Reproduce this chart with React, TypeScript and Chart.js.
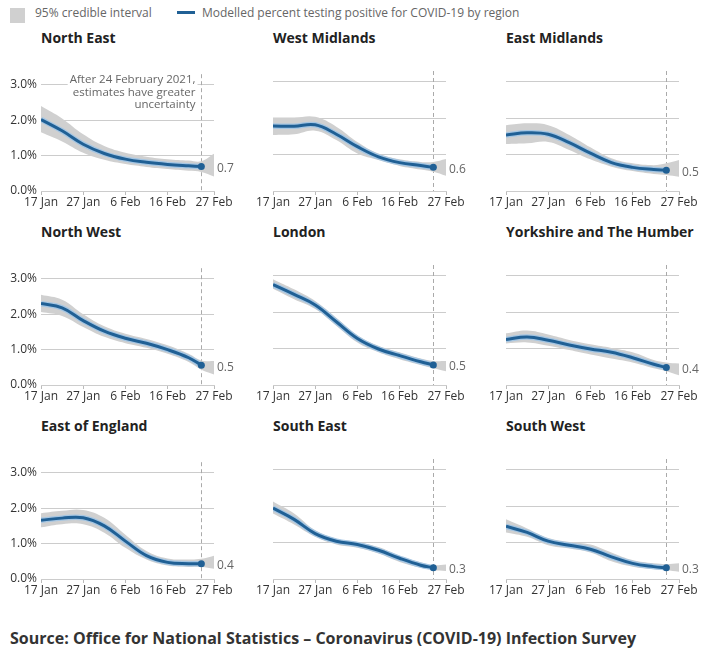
import React, { useEffect, useRef } from 'react';
import { Chart, registerables } from 'chart.js';
Chart.register(...registerables);
Chart.defaults.font.family = "'Open Sans', sans-serif";

// ---- data ----
const lineDays = [0, 5, 10, 15, 20, 25, 30, 35, 38];
const bandDays = [0, 5, 10, 15, 20, 25, 30, 35, 38, 41];
const tickDays = [0, 10, 20, 30, 41];
const tickLabels = ['17 Jan', '27 Jan', '6 Feb', '16 Feb', '27 Feb'];
const yTicks = [0, 1, 2, 3];
const dashDay = 38;
const annotationLines = ['After 24 February 2021,', 'estimates have greater', 'uncertainty'];

const neLine = [2.02, 1.70, 1.32, 1.06, 0.90, 0.81, 0.75, 0.71, 0.69];
const neLow = [1.66, 1.40, 1.08, 0.88, 0.76, 0.68, 0.62, 0.57, 0.54, 0.41];
const neHigh = [2.40, 2.05, 1.60, 1.27, 1.08, 0.97, 0.90, 0.86, 0.84, 1.05];

const wmLine = [1.79, 1.78, 1.82, 1.56, 1.22, 0.94, 0.78, 0.70, 0.65];
const wmLow = [1.54, 1.56, 1.66, 1.40, 1.03, 0.85, 0.69, 0.59, 0.53, 0.42];
const wmHigh = [2.02, 2.02, 2.04, 1.77, 1.35, 1.03, 0.87, 0.80, 0.80, 0.88];

const emLine = [1.54, 1.60, 1.56, 1.33, 1.04, 0.78, 0.65, 0.59, 0.57];
const emLow = [1.29, 1.31, 1.35, 1.13, 0.87, 0.67, 0.55, 0.47, 0.44, 0.39];
const emHigh = [1.81, 1.86, 1.81, 1.54, 1.20, 0.90, 0.76, 0.71, 0.76, 0.85];

const nwLine = [2.30, 2.18, 1.82, 1.52, 1.32, 1.18, 1.00, 0.77, 0.56];
const nwLow = [2.06, 1.95, 1.64, 1.36, 1.18, 1.05, 0.88, 0.65, 0.43, 0.30];
const nwHigh = [2.55, 2.41, 2.00, 1.66, 1.45, 1.30, 1.12, 0.88, 0.69, 0.68];

const ldLine = [2.76, 2.49, 2.20, 1.74, 1.28, 0.99, 0.81, 0.64, 0.55];
const ldLow = [2.65, 2.36, 2.09, 1.63, 1.17, 0.90, 0.71, 0.55, 0.46, 0.38];
const ldHigh = [2.91, 2.63, 2.31, 1.85, 1.37, 1.08, 0.90, 0.73, 0.66, 0.66];

const ykLine = [1.25, 1.32, 1.23, 1.10, 0.99, 0.90, 0.75, 0.57, 0.48];
const ykLow = [1.14, 1.17, 1.08, 0.96, 0.84, 0.73, 0.62, 0.46, 0.38, 0.27];
const ykHigh = [1.42, 1.50, 1.39, 1.24, 1.12, 1.02, 0.90, 0.69, 0.62, 0.59];

const eeLine = [1.66, 1.72, 1.73, 1.50, 1.07, 0.66, 0.47, 0.43, 0.43];
const eeLow = [1.46, 1.55, 1.55, 1.31, 0.88, 0.55, 0.38, 0.34, 0.34, 0.29];
const eeHigh = [1.86, 1.93, 1.95, 1.73, 1.25, 0.79, 0.58, 0.55, 0.57, 0.66];

const seLine = [1.95, 1.64, 1.25, 1.04, 0.95, 0.79, 0.57, 0.38, 0.31];
const seLow = [1.80, 1.50, 1.16, 0.95, 0.86, 0.70, 0.47, 0.31, 0.25, 0.22];
const seHigh = [2.13, 1.80, 1.34, 1.11, 1.02, 0.88, 0.64, 0.46, 0.38, 0.40];

const swLine = [1.45, 1.28, 1.04, 0.93, 0.82, 0.61, 0.43, 0.34, 0.31];
const swLow = [1.28, 1.16, 0.93, 0.84, 0.73, 0.49, 0.34, 0.27, 0.24, 0.20];
const swHigh = [1.64, 1.39, 1.13, 1.02, 0.95, 0.73, 0.52, 0.43, 0.41, 0.43];

const regionNames = ['North East', 'West Midlands', 'East Midlands', 'North West', 'London', 'Yorkshire and The Humber', 'East of England', 'South East', 'South West'];
const lastLabels = ['0.7', '0.6', '0.5', '0.5', '0.5', '0.4', '0.4', '0.3', '0.3'];
const lines = [neLine, wmLine, emLine, nwLine, ldLine, ykLine, eeLine, seLine, swLine];
const lows = [neLow, wmLow, emLow, nwLow, ldLow, ykLow, eeLow, seLow, swLow];
const highs = [neHigh, wmHigh, emHigh, nwHigh, ldHigh, ykHigh, eeHigh, seHigh, swHigh];

// ---- style / layout ----
const BLUE = '#206095';
const HALO = 'rgba(160,196,228,0.9)';
const BAND = '#d0d0d0';
const GRID = '#cccccc';
const COL_LEFT = [41, 273, 506];
const ROW_BOTTOM = [191, 385, 579];
const PLOT_W = 173;
const PLOT_H = 120;
const YW = 40;
const PAD_R = 28;
const PAD_T = 8;
const XH = 24;
const TENSION = 0.4;

function Panel({ idx }: { idx: number }) {
  const ref = useRef<HTMLCanvasElement>(null);
  const col = idx % 3;
  const row = Math.floor(idx / 3);
  const left = COL_LEFT[col] - YW;
  const top = ROW_BOTTOM[row] - PLOT_H - PAD_T;
  const W = YW + PLOT_W + PAD_R;
  const H = PAD_T + PLOT_H + XH;

  useEffect(() => {
    const lineData = lineDays.map((d, i) => ({ x: d, y: lines[idx][i] }));
    const lowData = bandDays.map((d, i) => ({ x: d, y: lows[idx][i] }));
    const highData = bandDays.map((d, i) => ({ x: d, y: highs[idx][i] }));
    const last = lineDays.length - 1;

    const extras = {
      id: 'extras' + idx,
      beforeDatasetsDraw(chart: any) {
        const { ctx, chartArea, scales } = chart;
        const x = Math.round(scales.x.getPixelForValue(dashDay)) + 0.5;
        ctx.save();
        ctx.strokeStyle = '#aaaaaa';
        ctx.lineWidth = 1;
        ctx.setLineDash([4, 3]);
        ctx.beginPath();
        ctx.moveTo(x, chartArea.top);
        ctx.lineTo(x, chartArea.bottom);
        ctx.stroke();
        ctx.restore();
        if (idx === 0) {
          ctx.save();
          ctx.font = "11.5px 'Open Sans', sans-serif";
          ctx.textAlign = 'right';
          ctx.textBaseline = 'middle';
          annotationLines.forEach((t, i) => {
            const ty = chartArea.top + 6 + i * 12.5;
            const w = ctx.measureText(t).width;
            ctx.fillStyle = '#ffffff';
            ctx.fillRect(x - 6 - w - 2, ty - 6, w + 4, 12);
            ctx.fillStyle = '#666666';
            ctx.fillText(t, x - 6, ty);
          });
          ctx.restore();
        }
      },
      afterDatasetsDraw(chart: any) {
        const { ctx, chartArea, scales } = chart;
        const y = scales.y.getPixelForValue(lines[idx][last]);
        ctx.save();
        ctx.font = "12px 'Open Sans', sans-serif";
        ctx.fillStyle = '#666666';
        ctx.textAlign = 'left';
        ctx.textBaseline = 'middle';
        ctx.fillText(lastLabels[idx], chartArea.right + 3, y + 2);
        ctx.restore();
      },
    };

    const chart = new Chart(ref.current!, {
      type: 'line',
      data: {
        datasets: [
          {
            data: lineData,
            borderColor: BLUE,
            borderWidth: 3,
            pointRadius: (c: any) => (c.dataIndex === last ? 3.5 : 0),
            pointBackgroundColor: BLUE,
            pointBorderWidth: 0,
            pointHoverRadius: 0,
            tension: TENSION,
            fill: false,
            order: 0,
          },
          {
            data: lineData,
            borderColor: HALO,
            borderWidth: 5.5,
            pointRadius: 0,
            tension: TENSION,
            fill: false,
            order: 1,
          },
          {
            data: lowData,
            borderColor: 'rgba(0,0,0,0)',
            borderWidth: 0,
            pointRadius: 0,
            tension: TENSION,
            fill: false,
            order: 3,
          },
          {
            data: highData,
            borderColor: 'rgba(0,0,0,0)',
            borderWidth: 0,
            pointRadius: 0,
            backgroundColor: BAND,
            tension: TENSION,
            fill: '-1',
            order: 2,
          },
        ],
      } as any,
      options: {
        responsive: false,
        animation: false,
        events: [],
        layout: { padding: { left: 0, right: PAD_R, top: PAD_T, bottom: 0 } },
        plugins: { legend: { display: false }, tooltip: { enabled: false } },
        scales: {
          x: {
            type: 'linear',
            min: 0,
            max: 41,
            afterBuildTicks: (s: any) => {
              s.ticks = tickDays.map((v) => ({ value: v }));
            },
            afterFit: (s: any) => {
              s.height = XH;
            },
            ticks: {
              autoSkip: false,
              maxRotation: 0,
              minRotation: 0,
              padding: 0,
              color: '#333333',
              font: { size: 12 },
              callback: (_v: any, i: number) => tickLabels[i],
            },
            grid: { drawOnChartArea: false, drawTicks: true, tickLength: 4, color: '#bbbbbb' },
            border: { display: true, color: GRID },
          },
          y: {
            min: 0,
            max: 3.3,
            afterBuildTicks: (s: any) => {
              s.ticks = yTicks.map((v) => ({ value: v }));
            },
            afterFit: (s: any) => {
              s.width = YW;
            },
            ticks: {
              display: col === 0,
              includeBounds: false,
              padding: 4,
              color: '#333333',
              font: { size: 12 },
              callback: (v: any) => Number(v).toFixed(1) + '%',
            },
            grid: { color: GRID, drawTicks: false },
            border: { display: false },
          },
        },
      } as any,
      plugins: [extras],
    });
    return () => chart.destroy();
  }, [idx]);

  return (
    <canvas
      ref={ref}
      width={W}
      height={H}
      style={{ position: 'absolute', left, top, width: W, height: H }}
    />
  );
}

const titleStyle = (x: number, y: number): React.CSSProperties => ({
  position: 'absolute',
  left: x,
  top: y,
  font: "bold 14px 'Open Sans', sans-serif",
  lineHeight: '20px',
  color: '#222222',
  whiteSpace: 'nowrap',
});

export default function App() {
  const TITLE_TOP = [27.5, 221.5, 415.5];
  return (
    <div
      style={{
        position: 'absolute',
        left: 0,
        top: 0,
        width: 709,
        height: 654,
        background: '#ffffff',
        overflow: 'hidden',
        fontFamily: "'Open Sans', sans-serif",
      }}
    >
      {/* legend */}
      <div style={{ position: 'absolute', left: 10, top: 8, width: 15, height: 15, background: BAND }} />
      <div style={{ position: 'absolute', left: 35, top: 4.5, font: "12px 'Open Sans', sans-serif", lineHeight: '16px', color: '#666666', whiteSpace: 'nowrap' }}>
        95% credible interval
      </div>
      <div style={{ position: 'absolute', left: 177, top: 11, width: 18, height: 3, background: BLUE }} />
      <div style={{ position: 'absolute', left: 202, top: 4.5, font: "12px 'Open Sans', sans-serif", lineHeight: '16px', color: '#666666', whiteSpace: 'nowrap' }}>
        Modelled percent testing positive for COVID-19 by region
      </div>

      {regionNames.map((name, i) => (
        <div key={'t' + i} style={titleStyle(COL_LEFT[i % 3], TITLE_TOP[Math.floor(i / 3)])}>
          {name}
        </div>
      ))}

      {regionNames.map((_, i) => (
        <Panel key={'p' + i} idx={i} />
      ))}

      <div
        style={{
          position: 'absolute',
          left: 10,
          top: 627,
          font: "bold 16px 'Open Sans', sans-serif",
          lineHeight: '22px',
          color: '#333333',
          whiteSpace: 'nowrap',
        }}
      >
        Source: Office for National Statistics – Coronavirus (COVID-19) Infection Survey
      </div>
    </div>
  );
}
